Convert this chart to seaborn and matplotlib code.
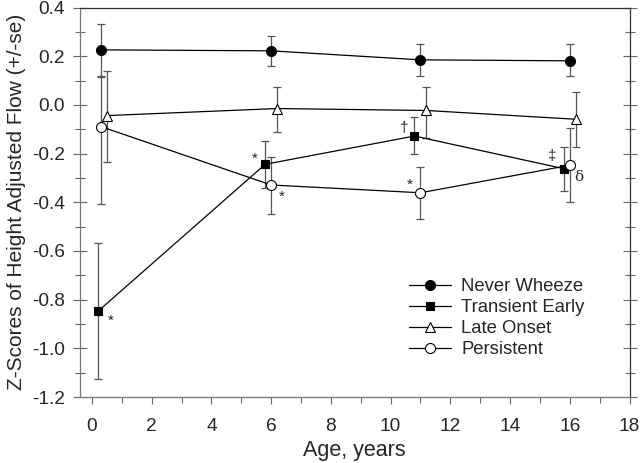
import numpy as np
import pandas as pd
import seaborn as sns
import matplotlib.pyplot as plt
from matplotlib.ticker import MultipleLocator

groups = ['Never Wheeze', 'Transient Early', 'Late Onset', 'Persistent']

never_age = [0.3, 6.0, 11.0, 16.0]
never_z = [0.226, 0.222, 0.185, 0.181]
never_hi = [0.333, 0.284, 0.25, 0.25]
never_lo = [0.12, 0.16, 0.12, 0.12]

trans_age = [0.2, 5.8, 10.8, 15.8]
trans_z = [-0.848, -0.244, -0.128, -0.262]
trans_hi = [-0.569, -0.147, -0.05, -0.172]
trans_lo = [-1.125, -0.343, -0.203, -0.353]

late_age = [0.5, 6.2, 11.2, 16.2]
late_z = [-0.044, -0.015, -0.023, -0.059]
late_hi = [0.141, 0.075, 0.075, 0.051]
late_lo = [-0.233, -0.112, -0.136, -0.174]

pers_age = [0.3, 6.0, 11.0, 16.0]
pers_z = [-0.089, -0.329, -0.361, -0.248]
pers_hi = [0.114, -0.213, -0.254, -0.096]
pers_lo = [-0.407, -0.449, -0.47, -0.4]

# significance marks: (symbol, x, y)
marks = [('*', 0.64, -0.888), ('*', 5.46, -0.223), ('*', 6.35, -0.377),
         ('†', 10.45, -0.096), ('*', 10.65, -0.329), ('‡', 15.4, -0.209),
         ('δ', 16.3, -0.295)]

sns.set_style('ticks')
plt.rcParams['font.family'] = ['Liberation Sans', 'DejaVu Sans']

fig, ax = plt.subplots(figsize=(6.4, 4.63), dpi=100)
fig.subplots_adjust(left=0.125, right=0.9836, bottom=0.1425, top=0.9838)

series = [
    (never_age, never_z, never_hi, never_lo, 'o', 'black', 7.2),
    (trans_age, trans_z, trans_hi, trans_lo, 's', 'black', 6.2),
    (late_age, late_z, late_hi, late_lo, '^', 'white', 7.0),
    (pers_age, pers_z, pers_hi, pers_lo, 'o', 'white', 7.2),
]

handles = []
for name, (x, y, hi, lo, mk, fc, ms) in zip(groups, series):
    y = np.array(y)
    err = [y - np.array(lo), np.array(hi) - y]
    ax.errorbar(x, y, yerr=err, fmt='none', ecolor='#555555', elinewidth=0.9,
                capsize=3, capthick=0.9, zorder=1)
    df = pd.DataFrame({'age': x, 'z': y})
    sns.lineplot(data=df, x='age', y='z', ax=ax, color='black', linewidth=0.9,
                 marker=mk, markersize=ms, markerfacecolor=fc,
                 markeredgecolor='black', markeredgewidth=0.8, zorder=3)
    handles.append(ax.lines[-1])

for s, x, y in marks:
    ax.text(x, y, s, fontsize=11, ha='center', va='center',
            family=['DejaVu Serif'] if s == 'δ' else None)

ax.set_xlim(-0.4, 18)
ax.set_ylim(-1.2, 0.4)
ax.xaxis.set_major_locator(MultipleLocator(2))
ax.xaxis.set_minor_locator(MultipleLocator(1))
ax.yaxis.set_major_locator(MultipleLocator(0.2))
ax.yaxis.set_minor_locator(MultipleLocator(0.1))
ax.yaxis.set_major_formatter(plt.FuncFormatter(lambda v, p: f'{v:.1f}'))

ax.tick_params(axis='x', which='major', direction='out', length=5, width=0.8,
               color='#666666', labelsize=13.8, pad=10)
ax.tick_params(axis='x', which='minor', direction='out', length=4, width=0.8,
               color='#666666')
ax.tick_params(axis='y', which='major', direction='inout', length=10, width=0.8,
               color='#666666', labelsize=13.8, right=True, pad=6)
ax.tick_params(axis='y', which='minor', direction='inout', length=7, width=0.8,
               color='#666666', right=True)

for side in ['left', 'bottom']:
    ax.spines[side].set_color('#777777')
for side in ['top', 'right']:
    ax.spines[side].set_visible(True)
    ax.spines[side].set_color('#333333')
for sp in ax.spines.values():
    sp.set_linewidth(0.9)

ax.set_xlabel('Age, years', fontsize=15.5, labelpad=4)
ax.set_ylabel('Z-Scores of Height Adjusted Flow (+/-se)', fontsize=15,
              labelpad=4)

ax.legend(handles, groups, loc='upper left', bbox_to_anchor=(0.598, 0.305),
          frameon=False, fontsize=13.3, handlelength=2.3, handletextpad=0.55,
          labelspacing=0.22, borderaxespad=0, borderpad=0)

fig.savefig('out.png', dpi=100)
